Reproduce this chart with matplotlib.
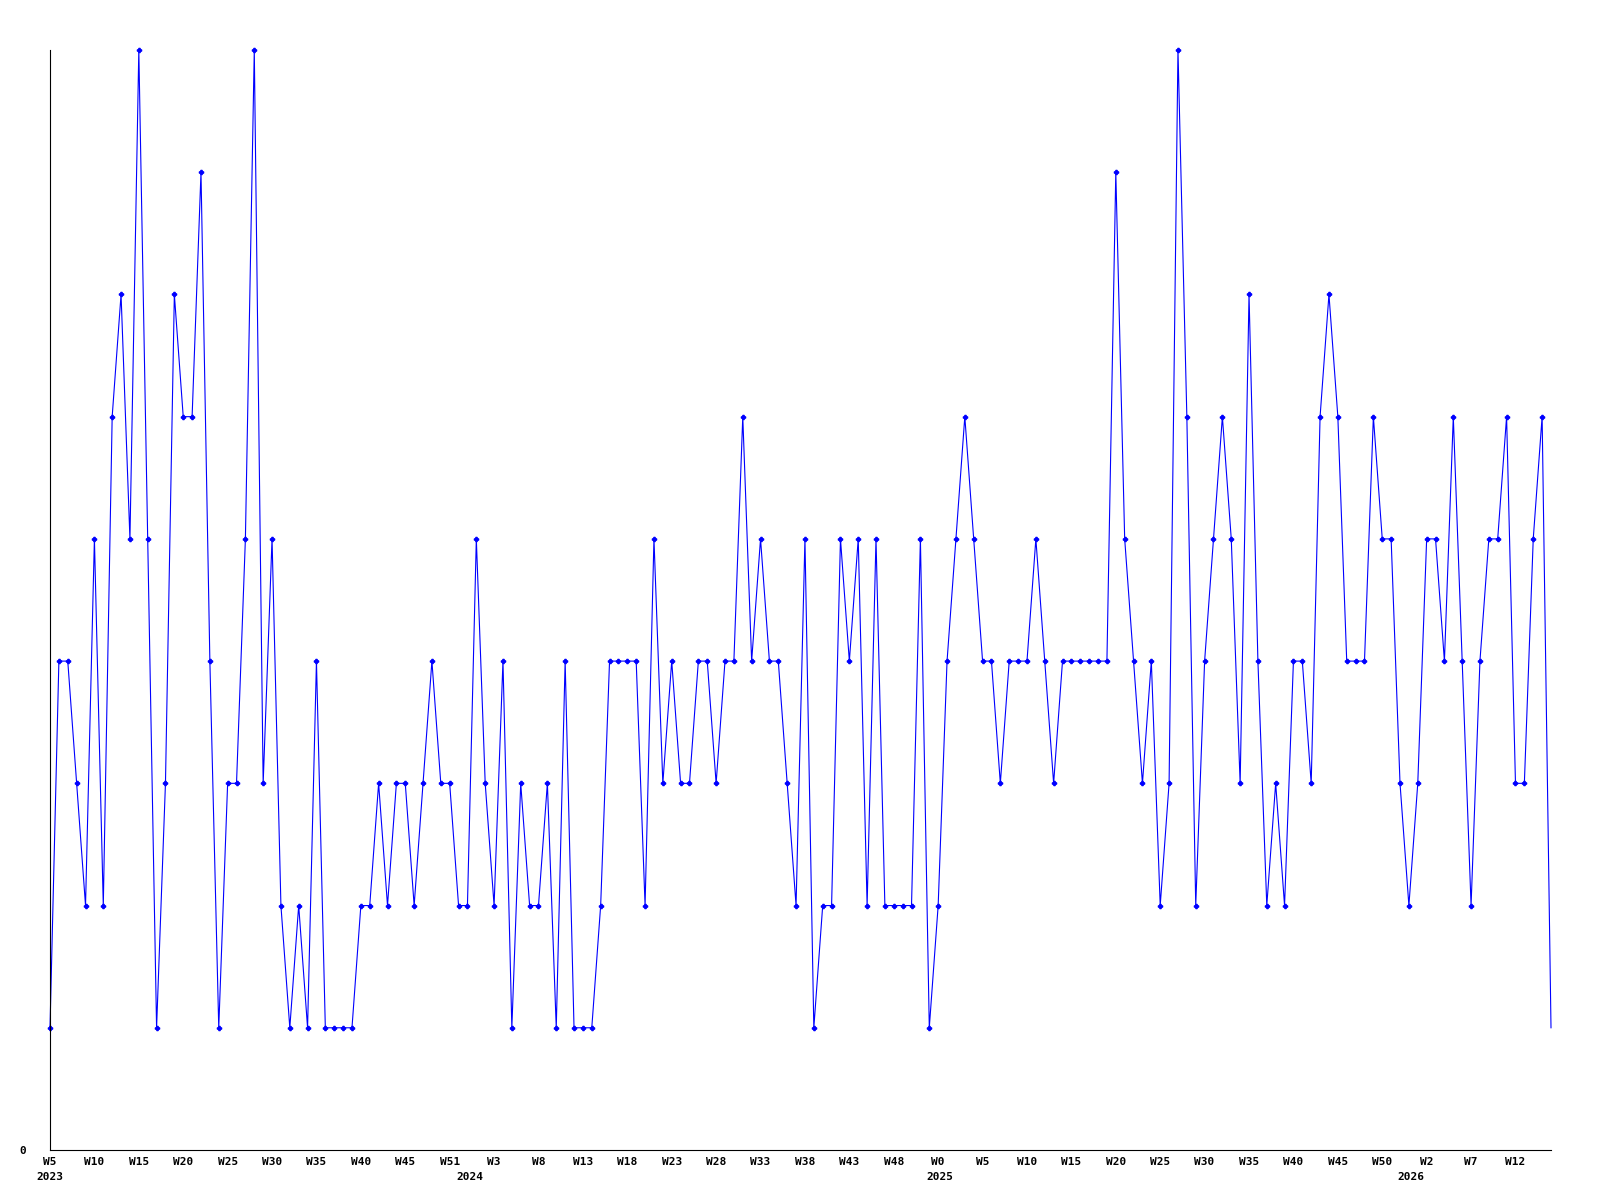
import numpy as np
import matplotlib
matplotlib.use("Agg")
import matplotlib.pyplot as plt
import matplotlib.transforms as mtransforms

# weekly values, first point is W5 2023
values = [1, 4, 4, 3, 2, 5, 2, 6, 7, 5,
          9, 5, 1, 3, 7, 6, 6, 8, 4, 1,
          3, 3, 5, 9, 3, 5, 2, 1, 2, 1,
          4, 1, 1, 1, 1, 2, 2, 3, 2, 3,
          3, 2, 3, 4, 3, 3, 2, 2, 5, 3,
          2, 4, 1, 3, 2, 2, 3, 1, 4, 1,
          1, 1, 2, 4, 4, 4, 4, 2, 5, 3,
          4, 3, 3, 4, 4, 3, 4, 4, 6, 4,
          5, 4, 4, 3, 2, 5, 1, 2, 2, 5,
          4, 5, 2, 5, 2, 2, 2, 2, 5, 1,
          2, 4, 5, 6, 5, 4, 4, 3, 4, 4,
          4, 5, 4, 3, 4, 4, 4, 4, 4, 4,
          8, 5, 4, 3, 4, 2, 3, 9, 6, 2,
          4, 5, 6, 5, 3, 7, 4, 2, 3, 2,
          4, 4, 3, 6, 7, 6, 4, 4, 4, 6,
          5, 5, 3, 2, 3, 5, 5, 4, 6, 4,
          2, 4, 5, 5, 6, 3, 3, 5, 6, 1]

week_labels = ["W5", "W10", "W15", "W20", "W25", "W30", "W35", "W40", "W45", "W51",
               "W3", "W8", "W13", "W18", "W23", "W28", "W33", "W38", "W43", "W48",
               "W0", "W5", "W10", "W15", "W20", "W25", "W30", "W35", "W40", "W45",
               "W50", "W2", "W7", "W12"]
years = ["2023", "2024", "2025", "2026"]
year_start = [0, 47.3, 100.2, 153.2]

x = np.arange(len(values))

fig = plt.figure(figsize=(16, 12), dpi=100)
ax = fig.add_axes([50 / 1600, 1 - 1150 / 1200, 1501 / 1600, 1100 / 1200])

ax.plot(x, values, color="#0000ff", lw=0.8, marker="P", ms=3,
        markevery=list(range(len(values) - 1)), clip_on=False)

ax.set_xlim(0, len(values) - 1)
ax.set_ylim(0, 9)

for s in ["top", "right"]:
    ax.spines[s].set_visible(False)
for s in ["left", "bottom"]:
    ax.spines[s].set_linewidth(0.8)
    ax.spines[s].set_color("black")

font = dict(family="DejaVu Sans Mono", weight="bold", size=8)

ax.set_xticks(np.arange(0, len(week_labels) * 5, 5))
ax.set_xticklabels(week_labels, **font)
ax.set_yticks([0])
ax.set_yticklabels(["0"], **font)
ax.tick_params(axis="x", length=0, pad=5)
ax.tick_params(axis="y", length=0, pad=17)

trans = mtransforms.blended_transform_factory(ax.transData, ax.transAxes)
for yr, pos in zip(years, year_start):
    ax.text(pos, -0.0245, yr, transform=trans, ha="center", va="center", **font)

fig.savefig("out.png", dpi=100, facecolor="white")
